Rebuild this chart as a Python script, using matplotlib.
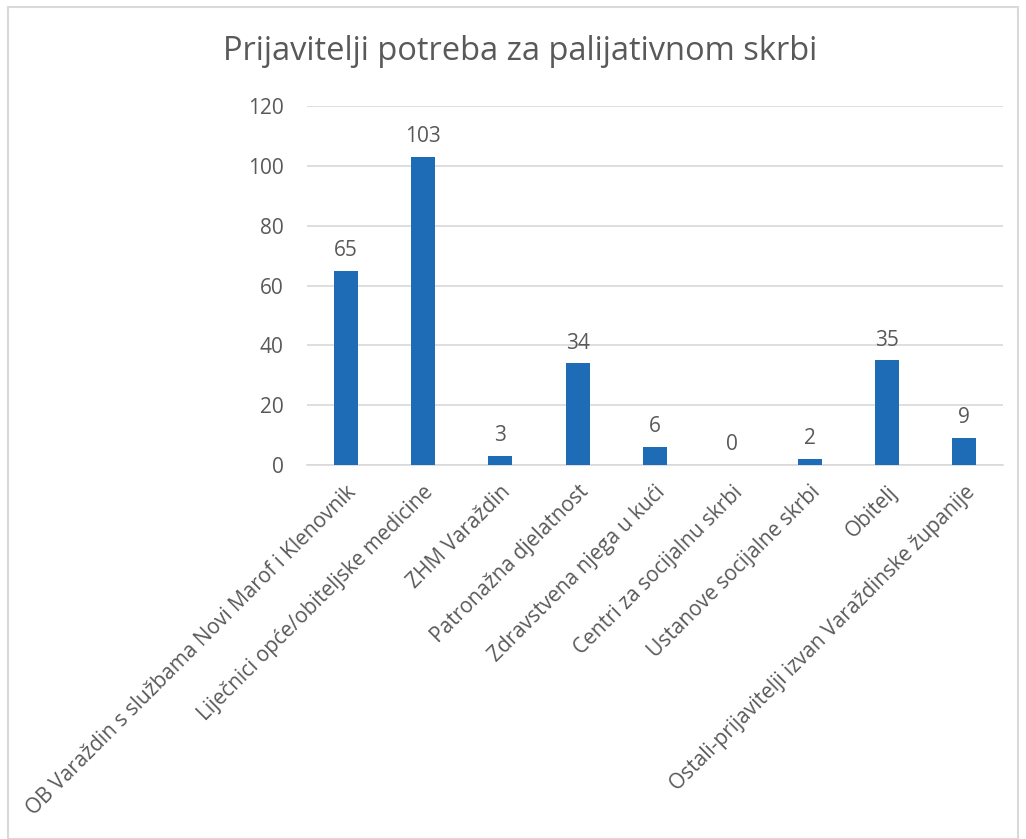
import matplotlib.pyplot as plt
import matplotlib.transforms as mtransforms
from matplotlib.patches import Rectangle

# Podaci
kategorije = [
    'OB Varaždin s službama Novi Marof i Klenovnik',
    'Liječnici opće/obiteljske medicine',
    'ZHM Varaždin',
    'Patronažna djelatnost',
    'Zdravstvena njega u kući',
    'Centri za socijalnu skrbi',
    'Ustanove socijalne skrbi',
    'Obitelj',
    'Ostali-prijavitelji izvan Varaždinske županije',
]
vrijednosti = [65, 103, 3, 34, 6, 0, 2, 35, 9]
y_ticks = [0, 20, 40, 60, 80, 100, 120]

plt.rcParams['font.family'] = ['Open Sans', 'DejaVu Sans']
siva = '#595959'
plava = '#1f6cb6'

fig = plt.figure(figsize=(10.26, 8.39), dpi=100)
ax = fig.add_axes([307 / 1026, 1 - 465 / 839, 696 / 1026, 359 / 839])

x = range(len(kategorije))
ax.bar(x, vrijednosti, width=0.31, color=plava, zorder=3)

for xi, v in zip(x, vrijednosti):
    ax.annotate(str(v), (xi, v), xytext=(0, 7), textcoords='offset points',
                ha='center', va='bottom', fontsize=15, color=siva)

ax.set_xlim(-0.5, len(kategorije) - 0.5)
ax.set_ylim(0, 120)
ax.set_yticks(y_ticks)
ax.set_xticks(list(x))
ax.set_xticklabels(kategorije, rotation=45, ha='right', va='top',
                   rotation_mode='anchor', fontsize=15, color=siva)
# malo pomakni oznake ulijevo kao u Excelu
pomak = mtransforms.ScaledTranslation(-9 / 100, 0, fig.dpi_scale_trans)
for lbl in ax.get_xticklabels():
    lbl.set_transform(lbl.get_transform() + pomak)
ax.tick_params(axis='y', labelsize=15, labelcolor=siva, length=0, pad=17)
ax.tick_params(axis='x', length=0, pad=12)
ax.grid(axis='y', color='#d9d9d9', linewidth=1.2, zorder=0)
for s in ['top', 'right', 'left']:
    ax.spines[s].set_visible(False)
ax.spines['bottom'].set_color('#d9d9d9')
ax.spines['bottom'].set_linewidth(1.2)

fig.text(520 / 1026, 1 - 52 / 839,
         'Prijavitelji potreba za palijativnom skrbi',
         ha='center', va='center', fontsize=23.5, color=siva)

# okvir
fig.patches.append(Rectangle((8 / 1026, 0), 1010 / 1026, 1 - 7 / 839,
                             transform=fig.transFigure, fill=False,
                             edgecolor='#d9d9d9', linewidth=1.5))

fig.savefig('out.png', dpi=100)
